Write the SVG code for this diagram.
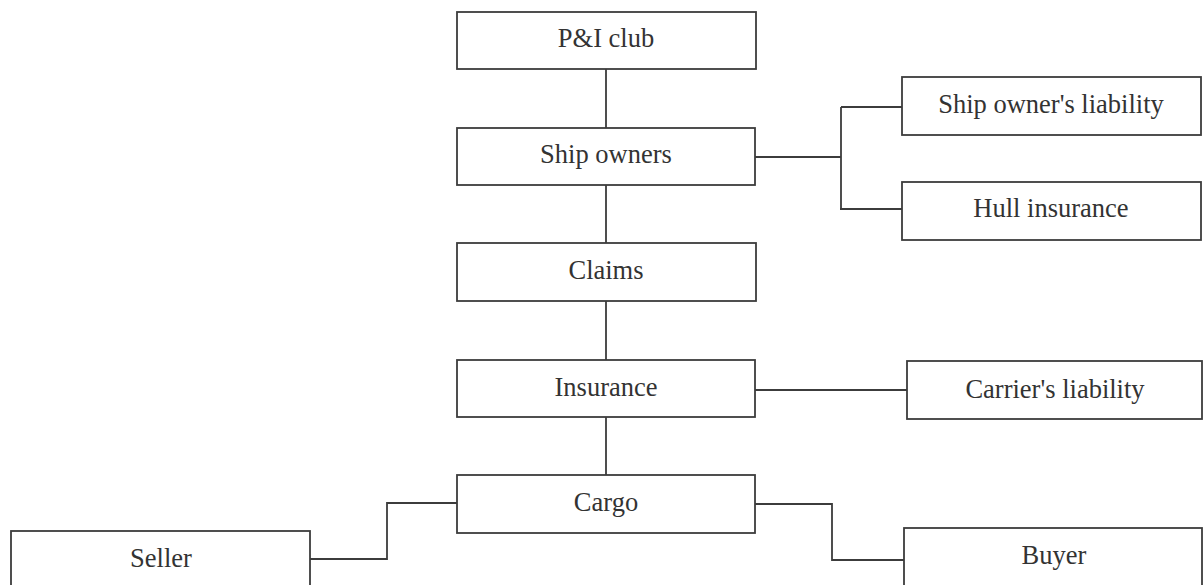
<svg xmlns="http://www.w3.org/2000/svg" width="1203" height="585" viewBox="0 0 1203 585">
<style>
.box{fill:#fff;stroke:#3c3c3c;stroke-width:1.8}
.lbl{font-family:"Liberation Serif","Times New Roman",serif;font-size:26.5px;fill:#333;text-anchor:middle}
.con{fill:none;stroke:#3c3c3c;stroke-width:1.8}
</style>
<rect width="1203" height="585" fill="#fff"/>
<g id="connectors">
<path class="con" d="M606 69V128M606 185V243M606 301V360M606 417V475"/>
<path class="con" d="M755 157H841M841 107V209M841 107H902M840 209H902"/>
<path class="con" d="M755 390H907"/>
<path class="con" d="M755 504H832V560H904"/>
<path class="con" d="M310 559H387V503H458"/>
</g>
<g id="pi-club"><rect class="box" x="457" y="12" width="299" height="57"/><text class="lbl" x="606" y="47">P&amp;I club</text></g>
<g id="ship-owners"><rect class="box" x="457" y="128" width="298" height="57"/><text class="lbl" x="606" y="163">Ship owners</text></g>
<g id="claims"><rect class="box" x="457" y="243" width="299" height="58"/><text class="lbl" x="606" y="279">Claims</text></g>
<g id="insurance"><rect class="box" x="457" y="360" width="298" height="57"/><text class="lbl" x="606" y="396">Insurance</text></g>
<g id="cargo"><rect class="box" x="457" y="475" width="298" height="58"/><text class="lbl" x="606" y="511">Cargo</text></g>
<g id="ship-owners-liability"><rect class="box" x="902" y="77" width="299" height="58"/><text class="lbl" x="1051" y="113">Ship owner's liability</text></g>
<g id="hull-insurance"><rect class="box" x="902" y="182" width="299" height="58"/><text class="lbl" x="1051" y="217">Hull insurance</text></g>
<g id="carriers-liability"><rect class="box" x="907" y="361" width="295" height="58"/><text class="lbl" x="1055" y="398">Carrier's liability</text></g>
<g id="buyer"><rect class="box" x="904" y="528" width="298" height="70"/><text class="lbl" x="1054" y="564">Buyer</text></g>
<g id="seller"><rect class="box" x="11" y="531" width="299" height="70"/><text class="lbl" x="161" y="567">Seller</text></g>
</svg>
